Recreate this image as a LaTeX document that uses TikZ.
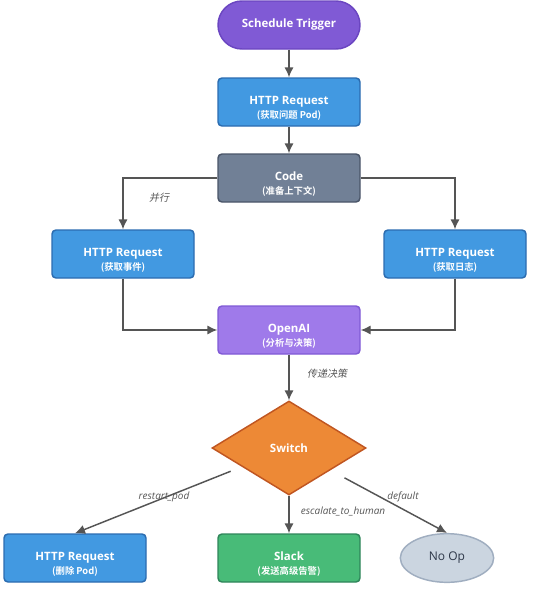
\documentclass[tikz,border=0pt]{standalone}
\usepackage{fontspec}
\setmainfont{Open Sans}
\newfontfamily\cjk{Noto Sans CJK SC}[BoldFont={Noto Sans CJK SC Bold}]
\newfontfamily\cjkit{Noto Sans CJK SC}[FakeSlant=0.2]
\usepackage{xcolor}
\usetikzlibrary{arrows.meta}
\usetikzlibrary{shapes.geometric}
\tikzset{>={Latex[length=7.5pt,width=7pt]}}
\definecolor{trigfill}{HTML}{805AD5}
\definecolor{trigline}{HTML}{6B46C1}
\definecolor{reqfill}{HTML}{4299E1}
\definecolor{reqline}{HTML}{2B6CB0}
\definecolor{codefill}{HTML}{718096}
\definecolor{codeline}{HTML}{4A5568}
\definecolor{aifill}{HTML}{9F7AEA}
\definecolor{ailine}{HTML}{805AD5}
\definecolor{swfill}{HTML}{ED8936}
\definecolor{swline}{HTML}{C05621}
\definecolor{slackfill}{HTML}{48BB78}
\definecolor{slackline}{HTML}{2F855A}
\definecolor{nopfill}{HTML}{CBD5E0}
\definecolor{nopline}{HTML}{A0AEC0}
\definecolor{noptext}{HTML}{2D3748}
\definecolor{edgegray}{HTML}{555555}
\definecolor{lblgray}{HTML}{555555}
\newcommand\subtxt[1]{{\cjk\bfseries\fontsize{7}{8}\selectfont(#1)}}
\newcommand\twoline[2]{\rule{0pt}{16pt}#1\\[0.5pt]\subtxt{#2}}
\tikzset{
  box/.style={rectangle,rounded corners=3pt,line width=1.1pt,
    minimum width=106.5pt,minimum height=36pt,inner sep=0pt,align=center,
    text=white,font=\bfseries\fontsize{8.6}{10}\selectfont},
  edge/.style={->,draw=edgegray,line width=1.1pt},
  lbl/.style={text=lblgray,font=\itshape\fontsize{7.5}{9}\selectfont},
}

\begin{document}
\begin{tikzpicture}[x=0.75pt,y=-0.75pt]
  \useasboundingbox (0,0) rectangle (533,593);

  % NODES
  \node[box,rounded corners=18pt,draw=trigline,fill=trigfill] (trig) at (289,25) {Schedule Trigger};
  \node[box,draw=reqline,fill=reqfill] (pod) at (289,102) {\twoline{HTTP Request}{获取问题 Pod}};
  \node[box,draw=codeline,fill=codefill] (code) at (289,178) {\twoline{Code}{准备上下文}};
  \node[box,draw=reqline,fill=reqfill] (ev) at (123,254) {\twoline{HTTP Request}{获取事件}};
  \node[box,draw=reqline,fill=reqfill] (log) at (455,254) {\twoline{HTTP Request}{获取日志}};
  \node[box,draw=ailine,fill=aifill] (ai) at (289,330) {\twoline{OpenAI}{分析与决策}};
  \node[box,diamond,aspect=1.64,minimum width=115.5pt,minimum height=70.5pt,
    rounded corners=0pt,draw=swline,fill=swfill] (sw) at (289,448) {Switch};
  \node[box,draw=reqline,fill=reqfill] (del) at (75,558) {\twoline{HTTP Request}{删除 Pod}};
  \node[box,draw=slackline,fill=slackfill] (slack) at (289,558) {\twoline{Slack}{发送高级告警}};
  \node[box,ellipse,minimum width=70pt,minimum height=36.5pt,draw=nopline,fill=nopfill,
    text=noptext,font=\fontsize{9}{10}\selectfont] (nop) at (447,558) {No Op};

  % EDGES
  \draw[edge] (trig) -- (pod);
  \draw[edge] (pod) -- (code);
  \draw[edge] (code.west) -| (ev.north);
  \draw[edge] (code.east) -| (log.north);
  \draw[edge] (ev.south) |- (ai.west);
  \draw[edge] (log.south) |- (ai.east);
  \draw[edge] (ai) -- (sw);
  \draw[edge,shorten <=9pt] (sw) -- (del.north);
  \draw[edge] (sw) -- (slack);
  \draw[edge,shorten <=12pt] (sw) -- (nop.north);

  % LABELS
  \node[lbl,font=\cjkit\fontsize{7.5}{9}\selectfont] (par) at (159,198) {并行};
  \node[lbl,font=\cjkit\fontsize{7.5}{9}\selectfont] (pass) at (327,374) {传递决策};
  \node[lbl] (restart) at (164,497) {restart\_pod};
  \node[lbl] (esc) at (343,511) {escalate\_to\_human};
  \node[lbl] (dflt) at (403,497) {default};
\end{tikzpicture}
\end{document}
